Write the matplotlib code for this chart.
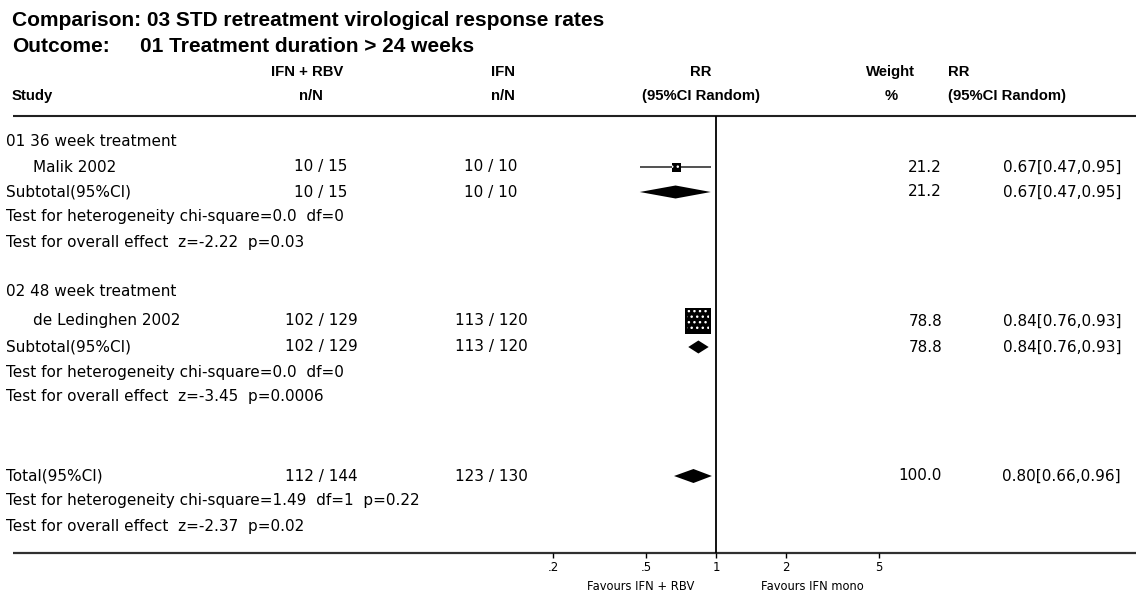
import matplotlib
matplotlib.use("Agg")
import matplotlib.pyplot as plt
from matplotlib import font_manager as fm

# ---------------- data ----------------
title_comparison = "03 STD retreatment virological response rates"
title_outcome = "01 Treatment duration > 24 weeks"
treat_label = "IFN + RBV"
ctrl_label = "IFN"

groups = ["01 36 week treatment", "02 48 week treatment"]
studies = ["Malik 2002", "de Ledinghen 2002"]
treat_n = [10, 102]
treat_N = [15, 129]
ctrl_n = [10, 113]
ctrl_N = [10, 120]
rr = [0.67, 0.84]
rr_lo = [0.47, 0.76]
rr_hi = [0.95, 0.93]
weights = [21.2, 78.8]

sub_rr = [0.67, 0.84]
sub_lo = [0.47, 0.76]
sub_hi = [0.95, 0.93]
sub_weights = [21.2, 78.8]
sub_het = ["Test for heterogeneity chi-square=0.0  df=0",
           "Test for heterogeneity chi-square=0.0  df=0"]
sub_overall = ["Test for overall effect  z=-2.22  p=0.03",
               "Test for overall effect  z=-3.45  p=0.0006"]

total_treat = (112, 144)
total_ctrl = (123, 130)
total_rr = 0.80
total_lo = 0.66
total_hi = 0.96
total_weight = 100.0
total_het = "Test for heterogeneity chi-square=1.49  df=1  p=0.22"
total_overall = "Test for overall effect  z=-2.37  p=0.02"

ticks = [0.2, 0.5, 1, 2, 5]
tick_labels = [".2", ".5", "1", "2", "5"]
favours_left = "Favours IFN + RBV"
favours_right = "Favours IFN mono"

# ---------------- layout ----------------
W, H = 1136, 594
names = {f.name for f in fm.fontManager.ttflist}
narrow = ["Liberation Sans Narrow"] if "Liberation Sans Narrow" in names else []
title_font = narrow + ["Liberation Sans", "DejaVu Sans"]
title_size = 15.0
head_font = ["Liberation Sans", "DejaVu Sans"]
body_font = ["DejaVu Sans"]
BODY = 11.0

fig = plt.figure(figsize=(W / 100, H / 100), dpi=100)
fig.patch.set_facecolor("white")
ax = fig.add_axes([0, 0, 1, 1])
ax.set_xlim(0, W)
ax.set_ylim(H, 0)
ax.axis("off")


def T(x, y, s, ha="left", size=BODY, family=body_font, weight="normal"):
    ax.text(x, y, s, ha=ha, va="center", fontsize=size, family=family,
            fontweight=weight, color="black")


# titles
T(12, 21, "Comparison: " + title_comparison, size=title_size, family=title_font, weight="bold")
T(12, 46, "Outcome:", size=title_size, family=title_font, weight="bold")
T(140, 46, title_outcome, size=title_size, family=title_font, weight="bold")

# column headers
HS = 10.7
h1, h2 = 72, 96
T(307, h1, treat_label, ha="center", size=HS, family=head_font, weight="bold")
T(503, h1, ctrl_label, ha="center", size=HS, family=head_font, weight="bold")
T(701, h1, "RR", ha="center", size=HS, family=head_font, weight="bold")
T(890, h1, "Weight", ha="center", size=HS, family=head_font, weight="bold")
T(948, h1, "RR", ha="left", size=HS, family=head_font, weight="bold")
T(12, h2, "Study", size=HS, family=head_font, weight="bold")
T(311, h2, "n/N", ha="center", size=HS, family=head_font, weight="bold")
T(503, h2, "n/N", ha="center", size=HS, family=head_font, weight="bold")
T(701, h2, "(95%CI Random)", ha="center", size=HS, family=head_font, weight="bold")
T(891, h2, "%", ha="center", size=HS, family=head_font, weight="bold")
T(948, h2, "(95%CI Random)", ha="left", size=HS, family=head_font, weight="bold")

# rules
top_y, bot_y = 116, 553
ax.plot([13, W], [top_y, top_y], color="#202020", lw=1.5, solid_capstyle="butt")
ax.plot([13, W], [bot_y, bot_y], color="#303030", lw=1.6, solid_capstyle="butt")

# forest axes (log scale), x(1)=716 px, one decade = 232.6 px
dec = 232.6
x_lo = 716 - 0.69897 * dec
x_hi = 716 + 0.69897 * dec
fx = fig.add_axes([x_lo / W, (H - bot_y) / H, (x_hi - x_lo) / W, (bot_y - top_y) / H])
fx.set_xscale("log")
fx.set_xlim(0.2, 5)
fx.set_ylim(bot_y, top_y)
fx.patch.set_alpha(0)
for s in fx.spines.values():
    s.set_visible(False)
fx.set_yticks([])
fx.set_xticks(ticks)
fx.set_xticklabels(tick_labels)
fx.minorticks_off()
fx.tick_params(axis="x", direction="out", length=3.5, width=1, pad=2.5,
               labelsize=8.5, colors="black")
for lab in fx.get_xticklabels():
    lab.set_family("DejaVu Sans")
fx.axvline(1, color="black", lw=1.3)


def diamond(y, est, lo, hi, h=13):
    fx.fill([lo, est, hi, est], [y, y - h / 2, y, y + h / 2],
            color="black", lw=0, zorder=3)


col1, col2, colw, colr = 321, 491, 942, 1121
group_y = [142, 292]
study_y = [167, 321]
sub_y = [192, 347]
het_y = [217, 372]
ov_y = [242, 397]
LX = 6

for i in range(len(groups)):
    T(LX, group_y[i], groups[i])
    T(33, study_y[i], studies[i])
    T(col1, study_y[i], f"{treat_n[i]} / {treat_N[i]}", ha="center")
    T(col2, study_y[i], f"{ctrl_n[i]} / {ctrl_N[i]}", ha="center")
    T(colw, study_y[i], f"{weights[i]:.1f}", ha="right")
    T(colr, study_y[i], f"{rr[i]:.2f}[{rr_lo[i]:.2f},{rr_hi[i]:.2f}]", ha="right")
    # study marker
    fx.plot([rr_lo[i], rr_hi[i]], [study_y[i], study_y[i]], color="#222222",
            lw=1.1, zorder=2, solid_capstyle="butt")
    side_px = 9 * (weights[i] / weights[0]) ** 0.8
    ms = side_px * 0.72
    fx.plot([rr[i]], [study_y[i]], marker="s", ms=ms, color="black",
            mec="black", mew=0, zorder=3)
    fx.scatter([rr[i]], [study_y[i]], marker="s", s=(ms * 0.85) ** 2,
               facecolor="none", edgecolor="white", hatch="...", lw=0, zorder=4)
    # subtotal
    T(LX, sub_y[i], "Subtotal(95%CI)")
    T(col1, sub_y[i], f"{treat_n[i]} / {treat_N[i]}", ha="center")
    T(col2, sub_y[i], f"{ctrl_n[i]} / {ctrl_N[i]}", ha="center")
    T(colw, sub_y[i], f"{sub_weights[i]:.1f}", ha="right")
    T(colr, sub_y[i], f"{sub_rr[i]:.2f}[{sub_lo[i]:.2f},{sub_hi[i]:.2f}]", ha="right")
    diamond(sub_y[i], sub_rr[i], sub_lo[i], sub_hi[i])
    T(LX, het_y[i], sub_het[i])
    T(LX, ov_y[i], sub_overall[i])

# total
ty = 476
T(LX, ty, "Total(95%CI)")
T(col1, ty, f"{total_treat[0]} / {total_treat[1]}", ha="center")
T(col2, ty, f"{total_ctrl[0]} / {total_ctrl[1]}", ha="center")
T(colw, ty, f"{total_weight:.1f}", ha="right")
T(colr, ty, f"{total_rr:.2f}[{total_lo:.2f},{total_hi:.2f}]", ha="right")
diamond(ty, total_rr, total_lo, total_hi, h=14)
T(LX, 501, total_het)
T(LX, 526, total_overall)

# favours labels
T(641, 587, favours_left, ha="center", size=8.3)
T(812, 587, favours_right, ha="center", size=8.3)

fig.savefig("out.png", dpi=100, facecolor="white")
